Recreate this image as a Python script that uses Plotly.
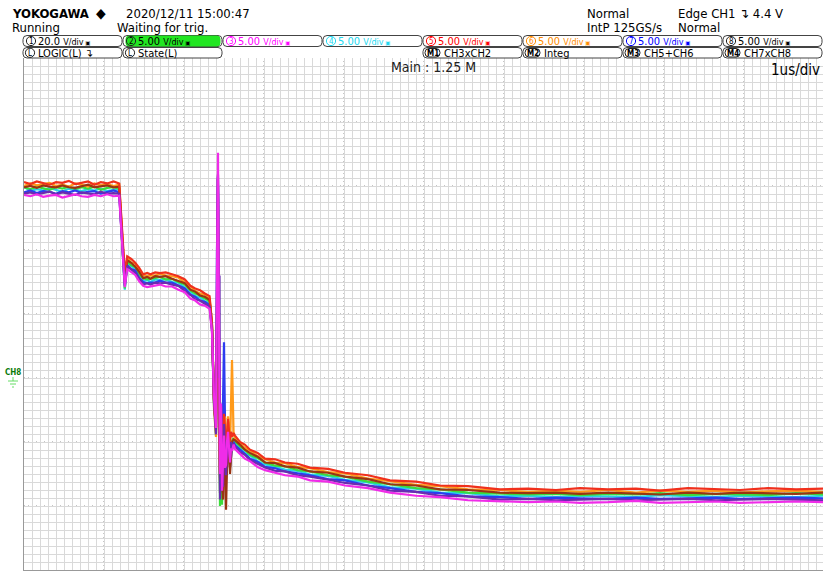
import plotly.graph_objects as go

# ---------------- waveform data (time in us, amplitude in V, 5 V/div, 0 V at CH8 ground) ----------------
t_us = [0.00, 0.08, 0.16, 0.24, 0.32, 0.40, 0.48, 0.56, 0.64, 0.72, 0.80, 0.88, 0.96, 1.04, 1.12, 1.19,
        1.21, 1.24, 1.26, 1.29,
        1.34, 1.39, 1.44, 1.49, 1.54, 1.58, 1.64, 1.70, 1.77, 1.85, 1.93, 2.01, 2.08, 2.14, 2.20, 2.26, 2.32,
        2.35, 2.375, 2.40, 2.4125, 2.418, 2.425, 2.431, 2.4375, 2.444, 2.45, 2.456, 2.4625, 2.475, 2.488,
        2.50, 2.5125, 2.525, 2.5375, 2.55, 2.575, 2.5875, 2.60, 2.62,
        2.6375, 2.70, 2.76, 2.825, 2.92, 3.0125, 3.14, 3.2625, 3.42, 3.575, 3.80, 4.0125, 4.30, 4.575,
        4.90, 5.2, 5.55, 5.95, 6.30, 6.65, 6.95, 7.30, 7.65, 7.95, 8.30, 8.65, 8.95, 9.30, 9.65, 9.99]

ch_red = [15.3, 15.15, 15.35, 15.2, 15.1, 15.3, 15.25, 15.4, 15.15, 15.25, 15.35, 15.1, 15.3, 15.2, 15.35, 15.2,
          13.2, 9.6, 8.2, 9.5,
          9.3, 9.0, 8.6, 8.1, 8.2, 8.1, 8.25, 8.2, 8.25, 8.1, 7.95, 7.7, 7.2, 7.0, 6.85, 6.6, 6.4,
          4.3, -1.7, -4.1, 3.0, 8.5, 11.5, 4.0, 0.5, -4.0, -7.4, -5.0, -2.2, -7.8, -5.0, -2.8, -4.0, -6.0,
          -4.5, -3.2, -5.0, -4.2, -4.6, -4.3,
          -4.5, -5.0, -5.2, -5.6, -5.85, -6.3, -6.35, -6.6, -6.7, -7.0, -7.1, -7.4, -7.6, -8.0, -8.1, -8.4,
          -8.45, -8.7, -8.65, -8.75, -8.6, -8.7, -8.65, -8.8, -8.6, -8.7, -8.75, -8.6, -8.7, -8.65]
ch_orange = [15.0, 15.2, 15.05, 15.15, 15.25, 15.0, 15.1, 14.95, 15.2, 15.1, 14.95, 15.2, 15.05, 15.15, 15.0, 15.1,
             13.0, 9.5, 7.9, 9.4,
             9.0, 8.95, 8.35, 8.05, 7.95, 8.0, 8.0, 8.15, 8.0, 7.95, 7.85, 7.45, 7.15, 6.8, 6.6, 6.5, 6.2,
             4.2, -2.4, -4.6, 1.5, 5.0, 8.0, 2.0, -0.5, -4.5, -8.0, -6.5, -3.2, -8.6, -7.5, -4.8, -3.0, -6.5,
             -5.0, -3.0, -5.5, -2.0, 1.4, -4.4,
             -4.7, -5.1, -5.45, -5.65, -6.1, -6.35, -6.6, -6.65, -6.95, -7.05, -7.35, -7.45, -7.85, -8.05, -8.35,
             -8.45, -8.7, -8.75, -8.9, -8.8, -8.9, -8.75, -8.95, -8.8, -8.9, -8.8, -8.95, -8.85, -8.8, -8.9]
ch_brown = [14.9, 15.0, 14.85, 15.05, 14.95, 14.9, 15.05, 14.9, 14.85, 15.0, 15.1, 14.9, 14.95, 15.05, 14.9, 14.95,
            12.8, 9.3, 7.7, 9.2,
            9.0, 8.7, 8.3, 7.8, 7.9, 7.75, 7.95, 7.9, 7.95, 7.75, 7.6, 7.4, 6.9, 6.75, 6.45, 6.35, 6.1,
            4.1, -1.9, -3.8, 6.0, 11.0, 13.5, 6.0, -2.0, -6.5, -9.0, -7.0, -4.0, -8.0, -9.5, -3.5, -6.0, -10.3,
            -7.0, -4.0, -7.5, -6.0, -5.0, -4.8,
            -4.85, -5.2, -5.6, -5.85, -6.15, -6.6, -6.65, -6.9, -7.0, -7.3, -7.4, -7.7, -7.9, -8.3, -8.4,
            -8.7, -8.75, -8.95, -9.0, -8.95, -9.05, -8.95, -9.0, -9.1, -8.95, -9.05, -8.95, -9.0, -9.05, -8.95]
ch_green = [14.9, 14.75, 14.95, 14.85, 14.7, 14.9, 14.8, 14.95, 14.75, 14.9, 14.8, 14.95, 14.7, 14.85, 14.9, 14.8,
            12.6, 9.2, 7.0, 9.1,
            8.8, 8.7, 8.1, 7.8, 7.7, 7.75, 7.8, 7.9, 7.7, 7.75, 7.5, 7.3, 6.85, 6.6, 6.45, 6.2, 6.0,
            4.0, -1.6, -4.3, 2.5, 6.0, 9.5, 5.0, 1.5, -5.0, -10.0, -6.0, -3.5, -9.9, -5.5, -2.4, -4.5, -7.2,
            -5.0, -3.6, -6.2, -5.0, -4.9, -4.7,
            -4.95, -5.35, -5.6, -6.0, -6.25, -6.6, -6.85, -6.9, -7.2, -7.3, -7.6, -7.7, -8.1, -8.3, -8.6,
            -8.7, -8.95, -9.0, -9.1, -9.05, -9.15, -9.05, -9.1, -9.0, -9.15, -9.05, -9.1, -9.15, -9.0, -9.1]
ch_cyan = [14.95, 14.6, 14.75, 14.65, 14.85, 14.7, 14.55, 14.8, 14.7, 14.6, 14.75, 14.65, 14.8, 14.6, 14.7, 14.75,
           12.5, 9.0, 6.9, 8.9,
           8.75, 8.45, 8.05, 7.6, 7.65, 7.5, 7.7, 7.65, 7.7, 7.5, 7.45, 7.05, 6.75, 6.4, 6.3, 6.0, 5.85,
           3.9, -2.2, -4.5, 4.0, 8.0, 10.5, 3.0, -1.0, -6.0, -8.8, -5.0, -4.5, -9.6, -7.0, -3.0, -5.5, -6.2,
           -7.0, -4.6, -6.0, -5.8, -5.2, -5.0,
           -5.1, -5.45, -5.85, -6.05, -6.5, -6.75, -6.95, -7.15, -7.25, -7.55, -7.65, -7.95, -8.15, -8.55, -8.65,
           -8.95, -9.0, -9.25, -9.2, -9.3, -9.2, -9.25, -9.3, -9.15, -9.25, -9.3, -9.2, -9.25, -9.3, -9.2]
ch_blue = [14.5, 14.65, 14.45, 14.6, 14.55, 14.4, 14.6, 14.5, 14.65, 14.45, 14.55, 14.6, 14.4, 14.55, 14.65, 14.5,
           12.4, 8.9, 7.2, 8.8,
           8.5, 8.4, 7.8, 7.5, 7.4, 7.45, 7.45, 7.6, 7.45, 7.45, 7.2, 7.0, 6.5, 6.35, 6.05, 5.95, 5.7,
           3.8, -2.0, -4.0, 10.0, 15.0, 15.1, 9.0, 3.5, -4.0, -7.8, -2.0, -3.0, -6.6, -1.0, 2.8, -3.5, -8.0,
           -6.0, -5.0, -7.0, -6.0, -5.4, -5.0,
           -5.25, -5.6, -5.95, -6.3, -6.55, -6.95, -7.05, -7.3, -7.45, -7.6, -7.9, -8.0, -8.4, -8.6, -8.9,
           -9.0, -9.25, -9.3, -9.45, -9.35, -9.4, -9.45, -9.35, -9.45, -9.4, -9.35, -9.45, -9.4, -9.35, -9.4]
ch_purple = [14.4, 14.5, 14.35, 14.45, 14.55, 14.35, 14.5, 14.4, 14.3, 14.5, 14.45, 14.35, 14.55, 14.4, 14.45, 14.4,
             12.3, 8.8, 7.3, 8.7,
             8.5, 8.2, 7.8, 7.3, 7.4, 7.3, 7.45, 7.4, 7.45, 7.3, 7.2, 6.8, 6.5, 6.15, 6.05, 5.8, 5.6,
             3.7, -1.8, -4.4, 12.0, 15.5, 15.9, 14.0, 0.0, 8.0, -9.5, -5.0, -2.6, -7.2, -8.5, -3.6, -6.0, -7.6,
             -5.5, -4.8, -6.4, -5.0, -5.6, -5.1,
             -5.35, -5.8, -6.0, -6.4, -6.7, -7.0, -7.25, -7.3, -7.6, -7.7, -7.95, -8.2, -8.4, -8.8, -8.9,
             -9.2, -9.25, -9.5, -9.45, -9.55, -9.5, -9.45, -9.55, -9.5, -9.45, -9.55, -9.5, -9.45, -9.5, -9.55]
ch_magenta = [14.3, 14.2, 14.35, 14.15, 14.25, 14.3, 14.1, 14.25, 14.35, 14.2, 14.15, 14.3, 14.2, 14.35, 14.2, 14.25,
              12.2, 8.6, 7.1, 8.5,
              8.3, 8.05, 7.55, 7.2, 7.1, 7.15, 7.2, 7.3, 7.15, 7.15, 6.9, 6.7, 6.2, 6.05, 5.75, 5.65, 5.4,
              3.6, -1.5, -3.9, 8.0, 14.0, 17.6, 10.0, 5.0, -2.0, -7.5, -4.0, -2.0, -8.8, -6.0, -4.5, -7.0, -6.8,
              -5.0, -4.2, -6.6, -5.5, -5.7, -5.2,
              -5.55, -5.9, -6.3, -6.5, -6.95, -7.2, -7.4, -7.6, -7.7, -8.0, -8.1, -8.4, -8.6, -8.95, -9.2,
              -9.3, -9.55, -9.6, -9.7, -9.65, -9.75, -9.7, -9.6, -9.75, -9.7, -9.65, -9.75, -9.7, -9.65, -9.7]

series = [
    (ch_cyan, "#28d4e4"),
    (ch_green, "#3cdc3c"),
    (ch_blue, "#2c3cf0"),
    (ch_orange, "#ff9a1a"),
    (ch_brown, "#9a3412"),
    (ch_red, "#f0301c"),
    (ch_purple, "#6a2cb0"),
    (ch_magenta, "#f02ce8"),
]

# channel header boxes
ch_labels = ["20.0", "5.00", "5.00", "5.00", "5.00", "5.00", "5.00", "5.00"]
ch_colors = ["#000000", "#000000", "#ff00ff", "#22d8f0", "#ff0000", "#ff8c00", "#0000ff", "#000000"]
math_labels = ["CH3xCH2", "Integ", "CH5+CH6", "CH7xCH8"]

# ---------------- page geometry ----------------
W, H = 823, 571
ML, MR, MT, MB = 24, 0, 58, 1
PW = W - ML - MR
PH = H - MT - MB
VDIV = 5.0
X_RANGE = [0, PW / 80.0]
Y_RANGE = [-15, 25]

FONT = "DejaVu Sans Condensed, Liberation Sans Narrow, sans-serif"
ROW1_Y, ROW2_Y, ROW3_Y, ROW4_Y = 12, 27, 41, 53.5


def px(x):
    return (x - ML) / PW


def py(y):
    return (H - MB - y) / PH


fig = go.Figure()
for vals, col in series:
    n = min(len(vals), len(t_us))
    fig.add_trace(go.Scatter(x=t_us[:n], y=vals[:n], mode="lines",
                             line=dict(color=col, width=2.2), hoverinfo="skip",
                             showlegend=False))

shapes = []
ann = []


def text(x, y, s, size=13, color="#000", anchor="left", bold=False):
    if bold:
        s = "<b>" + s + "</b>"
    ann.append(dict(x=px(x), y=py(y), xref="paper", yref="paper", text=s, showarrow=False,
                    xanchor=anchor, yanchor="middle", borderpad=0,
                    font=dict(family=FONT, size=size, color=color)))


def rbox(x0, y0, x1, y1, r=4, fill="rgba(0,0,0,0)", line="#444"):
    X0, X1 = px(x0), px(x1)
    Y0, Y1 = py(y1), py(y0)
    rx, ry = r / PW, r / PH
    path = (f"M{X0+rx},{Y0} L{X1-rx},{Y0} Q{X1},{Y0} {X1},{Y0+ry} L{X1},{Y1-ry} "
            f"Q{X1},{Y1} {X1-rx},{Y1} L{X0+rx},{Y1} Q{X0},{Y1} {X0},{Y1-ry} "
            f"L{X0},{Y0+ry} Q{X0},{Y0} {X0+rx},{Y0} Z")
    shapes.append(dict(type="path", path=path, xref="paper", yref="paper",
                       fillcolor=fill, line=dict(color=line, width=1)))


def circ(cx, cy, r, line="#222"):
    shapes.append(dict(type="circle", xref="paper", yref="paper",
                       x0=px(cx - r), x1=px(cx + r), y0=py(cy + r), y1=py(cy - r),
                       line=dict(color=line, width=1)))


def hline(x0, x1, y, color, width=1):
    shapes.append(dict(type="line", xref="paper", yref="paper", x0=px(x0), x1=px(x1),
                       y0=py(y), y1=py(y), line=dict(color=color, width=width)))


def vline(x, y0, y1, color, width=1):
    shapes.append(dict(type="line", xref="paper", yref="paper", x0=px(x), x1=px(x),
                       y0=py(y0), y1=py(y1), line=dict(color=color, width=width)))


# ---------------- header ----------------
text(11, ROW1_Y + 1, "YOKOGAWA", size=13, bold=True)
text(95, ROW1_Y + 1, "◆", size=14)
text(125, ROW1_Y + 1, "2020/12/11 15:00:47", size=13)
text(11, ROW2_Y, "Running", size=13)
text(116, ROW2_Y, "Waiting for trig.", size=13)
text(586, ROW1_Y + 1, "Normal", size=13)
text(586, ROW2_Y, "IntP 125GS/s", size=13)
text(677, ROW1_Y + 1, "Edge CH1 ↴ 4.4 V", size=13)
text(677, ROW2_Y, "Normal", size=13)

small = '<span style="font-size:9px">V/div</span><span style="font-size:6px"> ▣</span>'
for i in range(8):
    x0 = 23 + 100 * i
    rbox(x0, 35.5, x0 + 99, 46.5)
    if i == 1:
        rbox(x0 + 3, 36.1, x0 + 97, 46, r=3, fill="#22e622", line="#22e622")
    circ(x0 + 8, 41, 4.6, line=ch_colors[i] if i not in (0, 1, 7) else "#222")
    text(x0 + 8, ROW3_Y, str(i + 1), size=8, color=ch_colors[i], anchor="center")
    text(x0 + 14, ROW3_Y, ch_labels[i] + " " + small, size=11, color=ch_colors[i])

# second header row
rbox(23, 47.5, 122, 58)
circ(30, 52.8, 4.6)
text(30, ROW4_Y - 0.5, "L", size=8, anchor="center")
text(37, ROW4_Y, "LOGIC(L) ↴", size=11)
rbox(123, 47.5, 222, 58)
circ(130, 52.8, 4.6)
text(130, ROW4_Y - 0.5, "L", size=8, anchor="center")
text(137, ROW4_Y, "State(L)", size=11)
for j, lab in enumerate(math_labels):
    x0 = 423 + 100 * j
    rbox(x0, 47.5, x0 + 99, 58)
    rbox(x0 + 2, 48.5, x0 + 17, 57, r=4, fill="#ffffff", line="#222")
    text(x0 + 9.5, ROW4_Y - 0.5, "M" + str(j + 1), size=8, anchor="center", bold=True)
    text(x0 + 20, ROW4_Y, lab, size=11)

text(390, 67, "Main : 1.25 M", size=14, color="#222")
text(821, 70, "1us/div", size=15, anchor="right")

# CH8 ground reference marker
text(13, 372, "CH8", size=8, color="#0a7a0a", anchor="center", bold=True)
vline(13, 377, 381, "#66dd66")
hline(8, 18, 381, "#66dd66")
hline(10, 16, 384, "#66dd66")
hline(12, 14, 387, "#66dd66")

# dotted major divisions over the fine grid
for k in range(1, 10):
    shapes.append(dict(type="line", xref="x", yref="paper", x0=k, x1=k, y0=0, y1=1,
                       line=dict(color="#8c8c8c", width=1, dash="1px,3px"), layer="below"))
for k in range(1, 8):
    v = Y_RANGE[0] + k * VDIV
    shapes.append(dict(type="line", xref="paper", yref="y", x0=0, x1=1, y0=v, y1=v,
                       line=dict(color="#8c8c8c", width=1, dash="1px,3px"), layer="below"))

fig.update_layout(
    width=W, height=H,
    margin=dict(l=ML, r=MR, t=MT, b=MB, pad=0),
    paper_bgcolor="white", plot_bgcolor="white",
    shapes=shapes, annotations=ann,
    xaxis=dict(range=X_RANGE, showticklabels=False, ticks="", zeroline=False,
               dtick=0.1, tick0=0, showgrid=True, gridcolor="#d9d9d9", gridwidth=1,
               showline=True, linecolor="#999999", linewidth=1),
    yaxis=dict(range=Y_RANGE, showticklabels=False, ticks="", zeroline=False,
               dtick=VDIV / 8, tick0=Y_RANGE[0], showgrid=True, gridcolor="#d9d9d9", gridwidth=1,
               showline=True, linecolor="#999999", linewidth=1),
    showlegend=False,
)

fig.write_html("out.html")
